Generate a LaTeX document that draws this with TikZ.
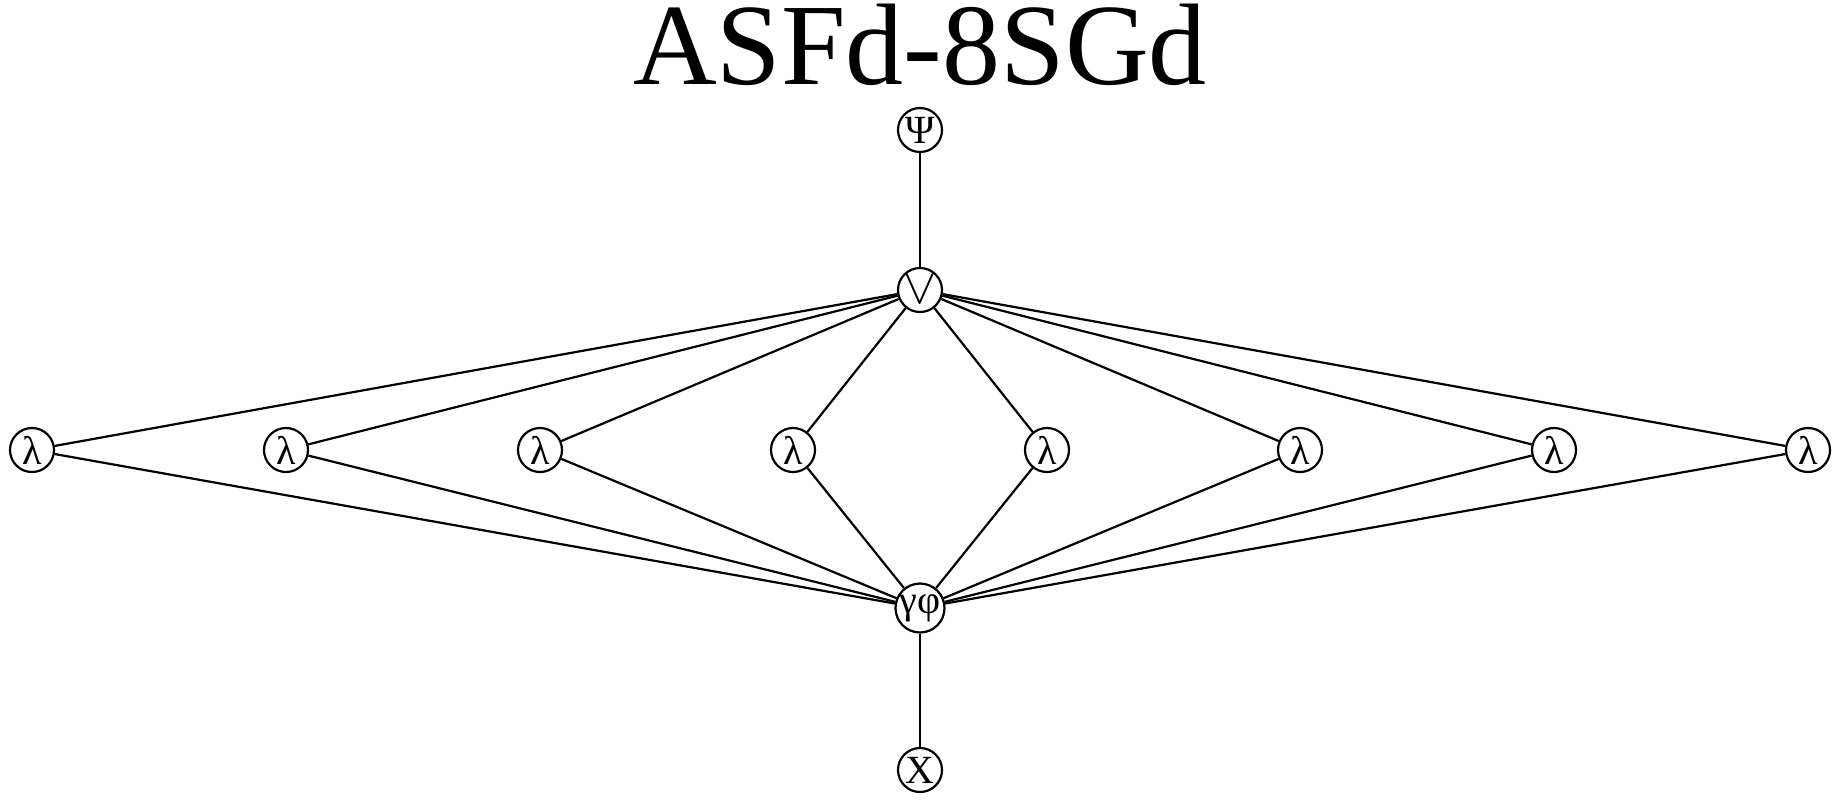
\documentclass[tikz,border=0pt]{standalone}
\usepackage{fontspec}
\setmainfont{Liberation Serif}
\begin{document}
\begin{tikzpicture}[x=0.5pt,y=-0.5pt,
  nd/.style={circle,draw,line width=1.1pt,minimum size=22pt,inner sep=0pt,font=\fontsize{20}{20}\selectfont},
  ed/.style={line width=1.1pt}]
\useasboundingbox (0,0) rectangle (1841,800);
\node[inner sep=0pt,anchor=base] (title) at (920,84) {\fontsize{58}{58}\selectfont ASFd-8SGd};
\node[nd] (psi) at (920,130) {Ψ};
\node[nd] (or) at (920,290) {\fontsize{28}{28}\selectfont$\vee$};
\node[nd] (gp) at (920,608) {γφ};
\node[nd] (chi) at (920,770) {Χ};
\foreach \i/\x in {1/32,2/286,3/540,4/793,5/1047,6/1300,7/1554,8/1808}{
  \node[nd] (l\i) at (\x,450) {λ};
  \draw[ed] (or) -- (l\i);
  \draw[ed] (l\i) -- (gp);
}
\draw[ed] (psi) -- (or);
\draw[ed] (gp) -- (chi);
\end{tikzpicture}
\end{document}
